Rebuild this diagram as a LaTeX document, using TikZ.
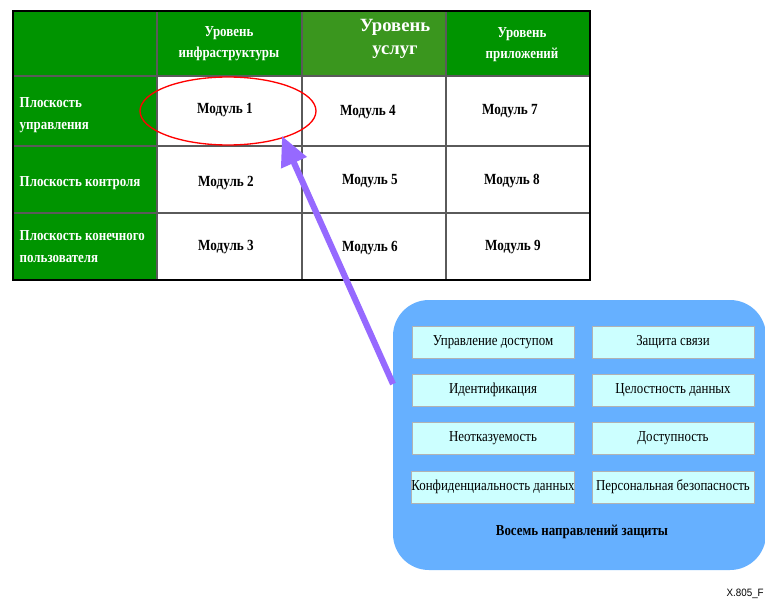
\documentclass[tikz,border=0pt]{standalone}
\usepackage{fontspec}
\setmainfont{Liberation Serif}[FakeStretch=0.85]
\newfontfamily\wideserif{Liberation Serif}
\newfontfamily\lsans{Liberation Sans}[FakeStretch=0.92]
\usetikzlibrary{arrows.meta,shapes.geometric}
\definecolor{hdrgreen}{RGB}{0,148,0}
\definecolor{svcgreen}{RGB}{58,150,30}
\definecolor{boxblue}{RGB}{102,176,255}
\definecolor{cellcyan}{RGB}{204,255,255}
\definecolor{arrowpurple}{RGB}{150,105,255}
\definecolor{gridgray}{RGB}{90,90,90}
\begin{document}
\begin{tikzpicture}[x=0.75pt,y=-0.75pt,
  hdr/.style={text=white, font=\bfseries\fontsize{11.4}{15.75}\selectfont, align=center},
  rowlbl/.style={text=white, font=\bfseries\fontsize{11.4}{16.5}\selectfont, align=left, anchor=west},
  modtxt/.style={text=black, font=\bfseries\fontsize{11.6}{14}\selectfont, anchor=base},
  dirbox/.style={draw=gray!60, fill=cellcyan, line width=0.6pt, minimum width=121.5pt, minimum height=24pt, inner sep=0pt, font=\fontsize{11.4}{14}\selectfont},
  marker/.style={draw=red, line width=1pt, ellipse, minimum width=132pt, minimum height=51pt},
  bigarrow/.style={draw=arrowpurple, line width=4.6pt, -{Triangle[length=22pt,width=20pt]}}]
\useasboundingbox (0,0) rectangle (765,603);
\fill[white] (0,0) rectangle (765,603);
% table fills
\fill[hdrgreen] (13,11) rectangle (590,76);
\fill[svcgreen] (302,11) rectangle (446,76);
\fill[hdrgreen] (13,76) rectangle (157,280);
% grid
\draw[gridgray, line width=0.8pt] (157,11) -- (157,280) (302,11) -- (302,280) (446,11) -- (446,280)
  (13,76) -- (590,76) (13,146) -- (590,146) (13,213) -- (590,213);
\draw[black, line width=2.2pt] (13,11) rectangle (590,280);
% headers
\node[hdr] (h1) at (229,44) {Уровень\\инфраструктуры};
\node[hdr, font=\wideserif\bfseries\fontsize{14}{17}\selectfont] (h2) at (395,39) {Уровень\\услуг};
\node[hdr] (h3) at (522,45) {Уровень\\приложений};
% row labels
\node[rowlbl] (r1) at (15,115) {Плоскость\\управления};
\node[rowlbl] (r2) at (15,183) {Плоскость контроля};
\node[rowlbl] (r3) at (15,247) {Плоскость конечного\\пользователя};
% modules
\node[modtxt] (m1) at (225,113.5) {Модуль 1};
\node[modtxt] (m2) at (226,186.5) {Модуль 2};
\node[modtxt] (m3) at (226,250.5) {Модуль 3};
\node[modtxt] (m4) at (368,115.5) {Модуль 4};
\node[modtxt] (m5) at (370,184.5) {Модуль 5};
\node[modtxt] (m6) at (370,251.5) {Модуль 6};
\node[modtxt] (m7) at (510,114.5) {Модуль 7};
\node[modtxt] (m8) at (512,184.5) {Модуль 8};
\node[modtxt] (m9) at (513,250.5) {Модуль 9};
\node[marker] (ell) at (228,111) {};
% blue box
\fill[boxblue, rounded corners=27pt] (393,300) rectangle (766,570);
\node[dirbox] (d1) at (493,342) {Управление доступом};
\node[dirbox] (d2) at (673,342) {Защита связи};
\node[dirbox] (d3) at (493,390) {Идентификация};
\node[dirbox] (d4) at (673,390) {Целостность данных};
\node[dirbox] (d5) at (493,438) {Неотказуемость};
\node[dirbox] (d6) at (673,438) {Доступность};
\node[dirbox] (d7) at (493,487) {Конфиденциальность данных};
\node[dirbox] (d8) at (673,487) {Персональная безопасность};
\node[font=\bfseries\fontsize{11.4}{14}\selectfont, anchor=base] (title) at (582,535) {Восемь направлений защиты};
\coordinate (tail) at (393,384);
\draw[bigarrow] (tail) -- (282,136);
\node[anchor=base east, inner sep=0pt, font=\lsans\fontsize{8}{9}\selectfont] (fig) at (764,596) {X.805\_F};
\end{tikzpicture}
\end{document}
